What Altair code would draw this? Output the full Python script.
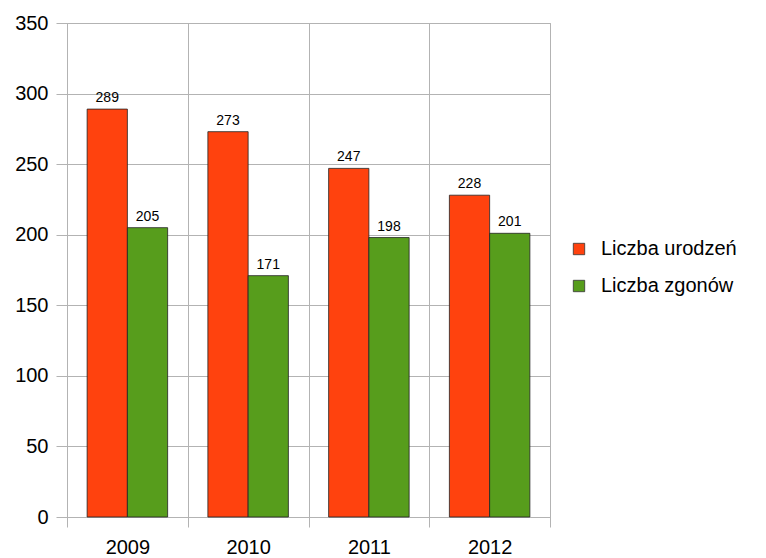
import altair as alt
import pandas as pd

years = ["2009", "2010", "2011", "2012"]
series = ["Liczba urodzeń", "Liczba zgonów"]
births = [289, 273, 247, 228]
deaths = [205, 171, 198, 201]
colors = ["#ff420e", "#579d1c"]

rows = []
for i, y in enumerate(years):
    rows.append({"year": y, "series": series[0], "value": births[i]})
    rows.append({"year": y, "series": series[1], "value": deaths[i]})
df = pd.DataFrame(rows)

FONT = "Liberation Sans"

x = alt.X("year:N", title=None,
          scale=alt.Scale(paddingInner=0, paddingOuter=0),
          axis=alt.Axis(labelAngle=0, labelFontSize=20, labelFont=FONT, labelColor="#000",
                        tickBand="extent", grid=True, gridColor="#b3b3b3",
                        tickColor="#b3b3b3", tickSize=10, labelPadding=10,
                        domain=True, domainColor="#b3b3b3"))
xo = alt.XOffset("series:N", sort=series,
                 scale=alt.Scale(paddingInner=0, paddingOuter=0.5))
y = alt.Y("value:Q", title=None,
          scale=alt.Scale(domain=[0, 350], nice=False),
          axis=alt.Axis(values=list(range(0, 351, 50)), labelFontSize=20, labelFont=FONT,
                        labelColor="#000", gridColor="#b3b3b3", tickColor="#b3b3b3",
                        tickSize=11, labelPadding=8, domain=False))
color = alt.Color("series:N", sort=series,
                  scale=alt.Scale(domain=series, range=colors),
                  legend=alt.Legend(title=None, orient="none", legendX=502, legendY=216,
                                    symbolType="square", symbolSize=130,
                                    symbolStrokeColor="#333", symbolStrokeWidth=0.8,
                                    labelFontSize=20, labelFont=FONT, labelColor="#000",
                                    rowPadding=17, labelOffset=12))

bars = alt.Chart(df).mark_bar(stroke="#222", strokeWidth=0.8).encode(
    x=x, xOffset=xo, y=y, color=color)
labels = alt.Chart(df).mark_text(dy=-11, fontSize=14, font=FONT, color="#000").encode(
    x=x, xOffset=xo, y=y, text="value:Q")

chart = alt.layer(bars, labels).properties(
    width=483, height=494,
    autosize=alt.AutoSizeParams(type="none"),
    padding={"left": 59, "top": 15, "right": 190, "bottom": 42},
).configure_view(stroke="#b3b3b3")

chart.save("out.html", embed_options={"renderer": "svg", "actions": False})
